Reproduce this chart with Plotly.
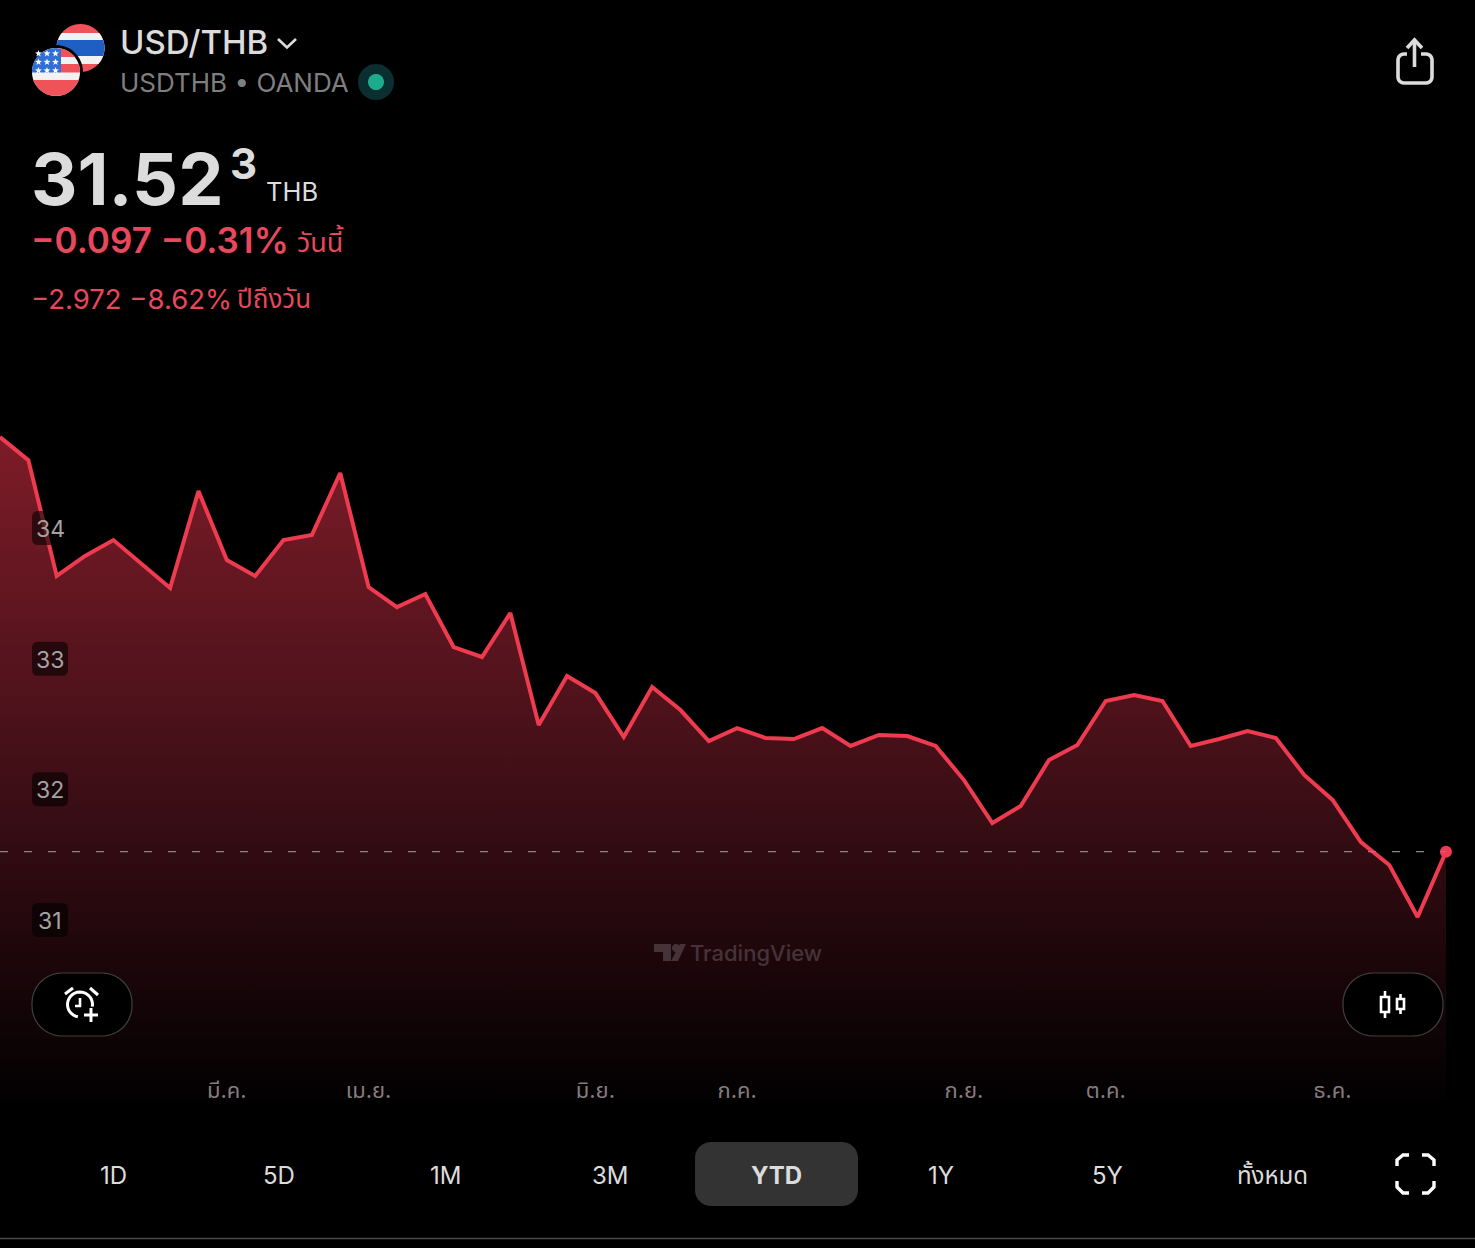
import math
import pandas as pd
import plotly.graph_objects as go

# USD/THB weekly closes, YTD
weeks = pd.date_range("2025-01-06", periods=52, freq="7D")
close = [34.696, 34.520, 33.633, 33.786, 33.908, 33.724, 33.541, 34.283, 33.755, 33.633,
         33.908, 33.946, 34.421, 33.548, 33.395, 33.495, 33.089, 33.013, 33.349, 32.492,
         32.867, 32.737, 32.401, 32.783, 32.607, 32.370, 32.469, 32.393, 32.385, 32.469,
         32.332, 32.416, 32.408, 32.332, 32.071, 31.742, 31.872, 32.225, 32.339, 32.676,
         32.722, 32.676, 32.332, 32.385, 32.446, 32.393, 32.110, 31.919, 31.597, 31.421,
         31.023, 31.523]

month_ticks = ["2025-03-03", "2025-04-07", "2025-06-02", "2025-07-07", "2025-09-01", "2025-10-06", "2025-12-01"]
month_labels = ["มี.ค.", "เม.ย.", "มิ.ย.", "ก.ค.", "ก.ย.", "ต.ค.", "ธ.ค."]
price_ticks = [34, 33, 32, 31]
range_tabs = ["1D", "5D", "1M", "3M", "YTD", "1Y", "5Y", "ทั้งหมด"]
range_tab_x = [113, 279, 445, 610, 776, 941, 1107, 1272]

W, H = 1475, 1248
PLOT_TOP, PLOT_BOTTOM = 340, 1110
FONT = "Inter, 'Noto Sans Thai', 'Noto Sans', sans-serif"
RED = "#ee3b4f"
TEXT_RED = "#e8485c"
LIGHT = "#dcdcdc"


def X(p):
    return p / W


def Y(p):
    # paper coordinates follow the plot area, not the page
    return (PLOT_BOTTOM - p) / (PLOT_BOTTOM - PLOT_TOP)


def P(pts, close_it=True):
    s = "M" + " L".join(f"{X(a):.5f},{Y(b):.5f}" for a, b in pts)
    return s + (" Z" if close_it else "")


def add_path(pts, fill=None, line=None, width=0, closed=True):
    fig.add_shape(type="path", xref="paper", yref="paper", path=P(pts, closed), layer="above",
                  fillcolor=fill if fill else "rgba(0,0,0,0)",
                  line=dict(color=line if line else "rgba(0,0,0,0)", width=width))


def arc(cx, cy, r, a0, a1, n=24):
    return [(cx + r * math.cos(math.radians(a0 + (a1 - a0) * i / n)),
             cy + r * math.sin(math.radians(a0 + (a1 - a0) * i / n))) for i in range(n + 1)]


def circle(cx, cy, r, fill):
    add_path(arc(cx, cy, r, 0, 360, 48), fill=fill)


def band(cx, cy, r, y0, y1, fill, xmin=-1e9, xmax=1e9):
    # piece of a circle between two heights, for the flags
    left, right = [], []
    for i in range(25):
        yy = y0 + (y1 - y0) * i / 24
        d = max(r * r - (yy - cy) ** 2, 0) ** 0.5
        left.append((max(cx - d, xmin), yy))
        right.append((min(cx + d, xmax), yy))
    add_path(left + right[::-1], fill=fill)


def round_box(x0, y0, x1, y1, r, fill=None, line=None, width=0):
    pts = arc(x1 - r, y0 + r, r, -90, 0, 10) + arc(x1 - r, y1 - r, r, 0, 90, 10) \
        + arc(x0 + r, y1 - r, r, 90, 180, 10) + arc(x0 + r, y0 + r, r, 180, 270, 10)
    add_path(pts, fill=fill, line=line, width=width)


def text(x, y, s, size, color, anchor="left", weight=400):
    fig.add_annotation(x=X(x), y=Y(y), xref="paper", yref="paper", text=s, showarrow=False,
                       xanchor=anchor, yanchor="middle", align=anchor,
                       font=dict(size=size, color=color, family=FONT, weight=weight))


fig = go.Figure()

fig.add_trace(go.Scatter(
    x=weeks, y=close, mode="lines", fill="tozeroy",
    line=dict(color=RED, width=4, shape="linear"),
    fillgradient=dict(type="vertical", start=34.7, stop=29.55,
                      colorscale=[[0, "rgb(125,28,40)"], [0.4, "rgb(78,18,27)"], [0.75, "rgb(32,7,12)"], [1, "rgb(0,0,0)"]]),
    hoverinfo="skip", showlegend=False))
fig.add_trace(go.Scatter(
    x=[weeks[-1]], y=[close[-1]], mode="markers",
    marker=dict(color=RED, size=12), hoverinfo="skip", showlegend=False))

# dashed last price line
fig.add_shape(type="line", xref="x", yref="y", x0=weeks[0], x1=weeks[-1], y0=close[-1], y1=close[-1],
              line=dict(color="#8c8286", width=1.2, dash="8px,16px"), layer="above")

# price labels sit in dark boxes on the area
for v in price_ticks:
    fig.add_shape(type="path", xref="paper", yref="y", xsizemode="pixel", ysizemode="pixel",
                  xanchor=0, yanchor=v, layer="above", fillcolor="rgba(0,0,0,0.58)", line=dict(width=0),
                  path="M38,-17 L62,-17 Q68,-17 68,-11 L68,11 Q68,17 62,17 L38,17 Q32,17 32,11 L32,-11 Q32,-17 38,-17 Z")
    fig.add_annotation(x=50 / W, y=v, xref="paper", yref="y", text=str(v), showarrow=False, xanchor="center", yshift=-1,
                       font=dict(size=23, color="#a3a3a3", family=FONT))

# flags
circle(80.5, 48, 24, "#f0525a")
band(80.5, 48, 24, 33, 64, "#f2f2f2")
band(80.5, 48, 24, 40, 56, "#1f5fc4")
circle(56, 72, 27, "#000000")
circle(56, 72, 24, "#f2f2f2")
band(56, 72, 24, 48, 57, "#f0525a", xmin=61)
band(56, 72, 24, 64, 72.5, "#f0525a", xmin=61)
band(56, 72, 24, 80, 96, "#f0525a")
band(56, 72, 24, 48, 72.5, "#2f6fd6", xmax=61)
for sy in (53.5, 62, 70.5):
    for sx in (38.5, 47, 55.5):
        star = []
        for k in range(10):
            rr = 3.6 if k % 2 == 0 else 1.5
            star.append((sx + rr * math.sin(math.radians(36 * k)), sy - rr * math.cos(math.radians(36 * k))))
        add_path(star, fill="#ffffff")

# header
text(118, 42, "USD/THB", 33, LIGHT, weight=500)
add_path([(278, 39), (287, 47.5), (296, 39)], line=LIGHT, width=2.6, closed=False)
text(118, 82, "USDTHB • OANDA", 26, "#7f7f7f")
circle(376, 82, 18, "#0b2f31")
circle(376, 82, 8, "#1dab8e")

text(29, 178, "31.52", 72, LIGHT, weight=700)
text(228, 163, "3", 42, LIGHT, weight=700)
text(264, 192, "THB", 25.5, LIGHT)
text(29, 240, "−0.097 −0.31%", 35, TEXT_RED, weight=600)
text(295, 241, "วันนี้", 27, TEXT_RED)
text(29, 299, "−2.972 −8.62%", 27.5, TEXT_RED)
text(235, 298, "ปีถึงวัน", 26, TEXT_RED)

# share icon
share_box = [(1407, 54)] + arc(1404, 60, 6, 270, 180, 6) + arc(1404, 77, 6, 180, 90, 6) \
    + arc(1426, 77, 6, 90, 0, 6) + arc(1426, 60, 6, 0, -90, 6) + [(1421, 54)]
add_path(share_box, line=LIGHT, width=3.6, closed=False)
add_path([(1414.5, 67), (1414.5, 41)], line=LIGHT, width=3.6, closed=False)
add_path([(1407, 48), (1414.5, 40), (1422, 48)], line=LIGHT, width=3.6, closed=False)

# alert button
round_box(32, 973, 132, 1036, 30, fill="#000000", line="#3f3f3f", width=1.2)
add_path(arc(80, 1004.5, 12.5, 100, 370), line="#ffffff", width=3, closed=False)
add_path([(80, 998), (80, 1006), (75, 1006)], line="#ffffff", width=2.6, closed=False)
add_path([(65, 994), (73, 988)], line="#ffffff", width=3, closed=False)
add_path([(90, 988), (98, 995)], line="#ffffff", width=3, closed=False)
add_path([(91, 1008), (91, 1022)], line="#ffffff", width=3, closed=False)
add_path([(84, 1015), (98, 1015)], line="#ffffff", width=3, closed=False)

# chart type button
round_box(1343, 973, 1443, 1036, 30, fill="#000000", line="#3f3f3f", width=1.2)
add_path([(1381, 997), (1389, 997), (1389, 1012), (1381, 1012)], line="#ffffff", width=2.6)
add_path([(1385, 991), (1385, 997)], line="#ffffff", width=2.6, closed=False)
add_path([(1385, 1012), (1385, 1018)], line="#ffffff", width=2.6, closed=False)
add_path([(1397, 999), (1404, 999), (1404, 1009), (1397, 1009)], line="#ffffff", width=2.6)
add_path([(1400.5, 994), (1400.5, 999)], line="#ffffff", width=2.6, closed=False)
add_path([(1400.5, 1009), (1400.5, 1014)], line="#ffffff", width=2.6, closed=False)

# watermark
add_path([(654, 944), (671, 944), (671, 961), (663, 961), (663, 952), (654, 952)], fill="#46333a")
circle(676, 948, 4, "#46333a")
add_path([(680, 944), (686, 944), (678, 961), (671, 961)], fill="#46333a")
text(688, 953, "TradingView", 22, "#46333a", weight=500)

# range tabs
round_box(695, 1142, 858, 1206, 16, fill="#333333")
for name, tx in zip(range_tabs, range_tab_x):
    text(tx, 1175, name, 24, LIGHT, anchor="center", weight=700 if name == "YTD" else 400)

# fullscreen corners
for pts in ([(1397, 1166), (1397, 1160), (1403, 1155), (1409, 1155)],
            [(1422, 1155), (1428, 1155), (1434, 1160), (1434, 1166)],
            [(1397, 1181), (1397, 1187), (1403, 1193), (1409, 1193)],
            [(1422, 1193), (1428, 1193), (1434, 1187), (1434, 1181)]):
    add_path(pts, line="#ffffff", width=3.4, closed=False)

# bottom rule
add_path([(0, 1238.5), (W, 1238.5)], line="#4a4a4a", width=1.5, closed=False)

fig.update_layout(
    width=W, height=H, autosize=False,
    margin=dict(l=0, r=0, t=PLOT_TOP, b=H - PLOT_BOTTOM),
    paper_bgcolor="#000000", plot_bgcolor="#000000",
    showlegend=False,
    font=dict(family=FONT),
    xaxis=dict(range=["2025-01-06", "2026-01-05 04:00"], tickmode="array", tickvals=month_ticks, ticktext=month_labels,
               ticklabelposition="inside", ticklabelstandoff=5, ticks="", showgrid=False, zeroline=False, showline=False,
               tickfont=dict(size=22, color="#857c80")),
    yaxis=dict(range=[29.546, 35.439], tickmode="array", tickvals=price_ticks, showticklabels=False,
               ticks="", showgrid=False, zeroline=False, showline=False),
)

fig.write_html("out.html", config=dict(displayModeBar=False), post_script="document.body.style.margin='0';")
